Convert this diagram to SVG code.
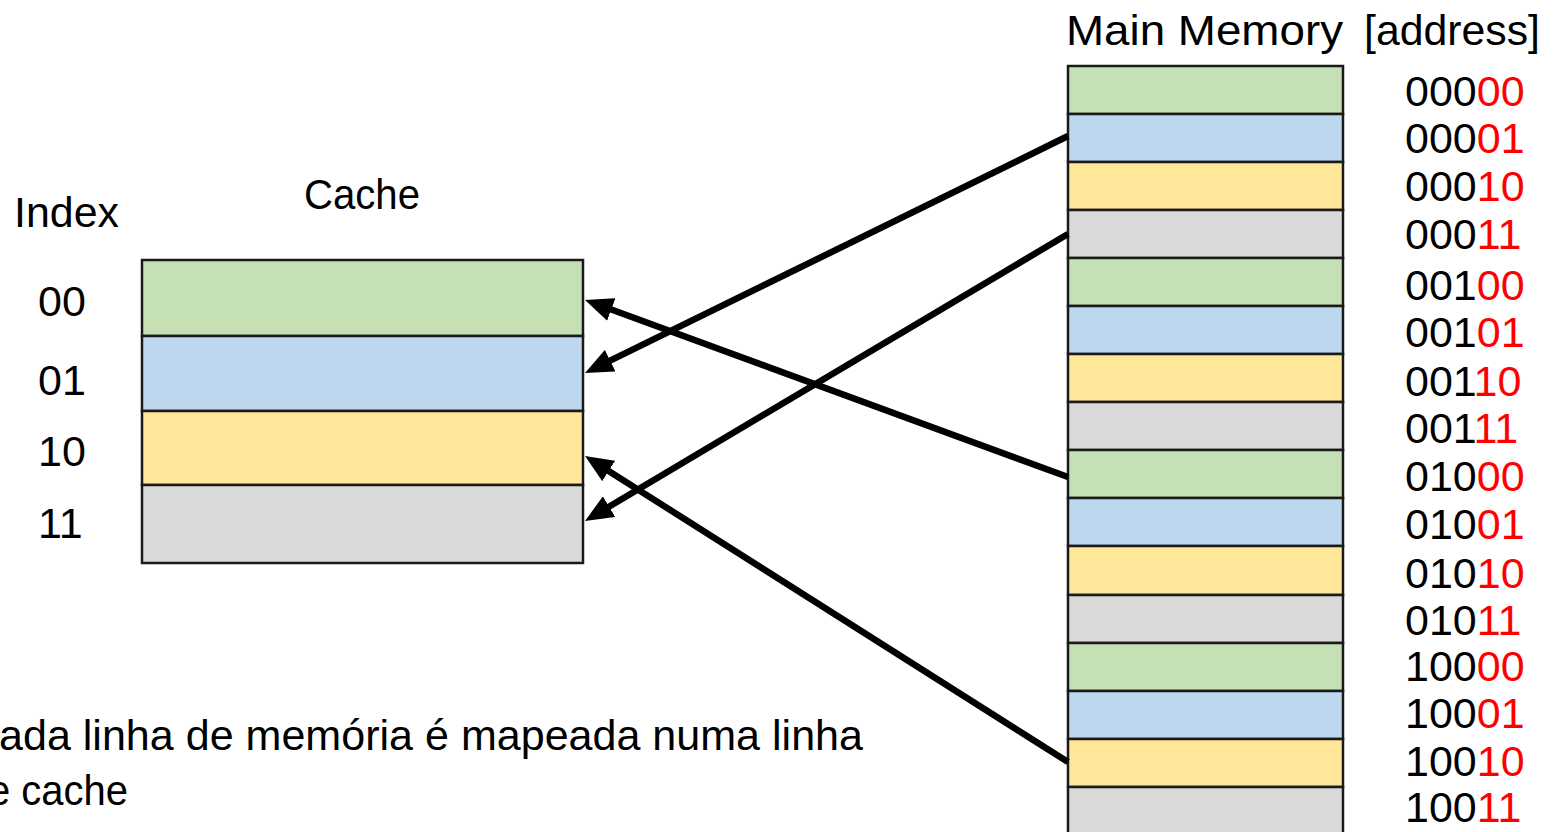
<svg xmlns="http://www.w3.org/2000/svg" width="1555" height="832" viewBox="0 0 1555 832">
<style>
text{font-family:"Liberation Sans",Arial,sans-serif;fill:#000}
.t{font-size:43px}
.r{fill:#FF0000}
.cell{stroke:#1a1a1a;stroke-width:2.5}
.g{fill:#C5E0B4}.b{fill:#BDD7EE}.y{fill:#FFE699}.k{fill:#D9D9D9}
.con{stroke:#000;stroke-width:6.5;fill:none}
</style>
<defs>
<marker id="ah" markerUnits="userSpaceOnUse" viewBox="0 0 28 24" markerWidth="28" markerHeight="24" refX="8" refY="12" orient="auto">
<path d="M0,0 L28,12 L0,24 z" fill="#000"/>
</marker>
</defs>
<rect width="1555" height="832" fill="#fff"/>

<g id="labels">
<text class="t" x="1066" y="45" textLength="277" lengthAdjust="spacingAndGlyphs">Main Memory</text>
<text class="t" x="1364" y="45" textLength="176" lengthAdjust="spacingAndGlyphs">[address]</text>
<text class="t" x="304" y="209" textLength="116" lengthAdjust="spacingAndGlyphs">Cache</text>
<text class="t" x="14" y="227" textLength="105" lengthAdjust="spacingAndGlyphs">Index</text>
<text class="t" x="-1" y="750" textLength="864" lengthAdjust="spacingAndGlyphs">ada linha de memória é mapeada numa linha</text>
<text class="t" x="-12" y="805" textLength="140" lengthAdjust="spacingAndGlyphs">e cache</text>
</g>

<g id="index-labels">
<text class="t" x="38" y="316">00</text>
<text class="t" x="38" y="395">01</text>
<text class="t" x="38" y="466">10</text>
<text class="t" x="38" y="538">11</text>
</g>

<g id="cache">
<rect class="cell g" x="142" y="260" width="441" height="76"/>
<rect class="cell b" x="142" y="336" width="441" height="75"/>
<rect class="cell y" x="142" y="411" width="441" height="74"/>
<rect class="cell k" x="142" y="485" width="441" height="78"/>
</g>

<g id="main-memory">
<rect class="cell g" x="1068" y="66" width="275" height="48"/>
<rect class="cell b" x="1068" y="114" width="275" height="48"/>
<rect class="cell y" x="1068" y="162" width="275" height="48"/>
<rect class="cell k" x="1068" y="210" width="275" height="48"/>
<rect class="cell g" x="1068" y="258" width="275" height="48"/>
<rect class="cell b" x="1068" y="306" width="275" height="48"/>
<rect class="cell y" x="1068" y="354" width="275" height="48"/>
<rect class="cell k" x="1068" y="402" width="275" height="48"/>
<rect class="cell g" x="1068" y="450" width="275" height="48"/>
<rect class="cell b" x="1068" y="498" width="275" height="48"/>
<rect class="cell y" x="1068" y="546" width="275" height="49"/>
<rect class="cell k" x="1068" y="595" width="275" height="48"/>
<rect class="cell g" x="1068" y="643" width="275" height="48"/>
<rect class="cell b" x="1068" y="691" width="275" height="48"/>
<rect class="cell y" x="1068" y="739" width="275" height="48"/>
<rect class="cell k" x="1068" y="787" width="275" height="60"/>
</g>

<g id="addresses">
<text class="t" x="1405" y="106">000<tspan class="r">00</tspan></text>
<text class="t" x="1405" y="153">000<tspan class="r">01</tspan></text>
<text class="t" x="1405" y="201">000<tspan class="r">10</tspan></text>
<text class="t" x="1405" y="249">000<tspan class="r">11</tspan></text>
<text class="t" x="1405" y="300">001<tspan class="r">00</tspan></text>
<text class="t" x="1405" y="347">001<tspan class="r">01</tspan></text>
<text class="t" x="1405" y="396">001<tspan class="r">10</tspan></text>
<text class="t" x="1405" y="443">001<tspan class="r">11</tspan></text>
<text class="t" x="1405" y="491">010<tspan class="r">00</tspan></text>
<text class="t" x="1405" y="539">010<tspan class="r">01</tspan></text>
<text class="t" x="1405" y="588">010<tspan class="r">10</tspan></text>
<text class="t" x="1405" y="635">010<tspan class="r">11</tspan></text>
<text class="t" x="1405" y="681">100<tspan class="r">00</tspan></text>
<text class="t" x="1405" y="728">100<tspan class="r">01</tspan></text>
<text class="t" x="1405" y="776">100<tspan class="r">10</tspan></text>
<text class="t" x="1405" y="822">100<tspan class="r">11</tspan></text>
</g>

<g id="connectors">
<line class="con" x1="1068" y1="136" x2="603" y2="364.2" marker-end="url(#ah)"/>
<line class="con" x1="1068" y1="234" x2="602.2" y2="510.7" marker-end="url(#ah)"/>
<line class="con" x1="1068" y1="477" x2="603.8" y2="306.8" marker-end="url(#ah)"/>
<line class="con" x1="1068" y1="762" x2="601.9" y2="466.7" marker-end="url(#ah)"/>
</g>
</svg>
